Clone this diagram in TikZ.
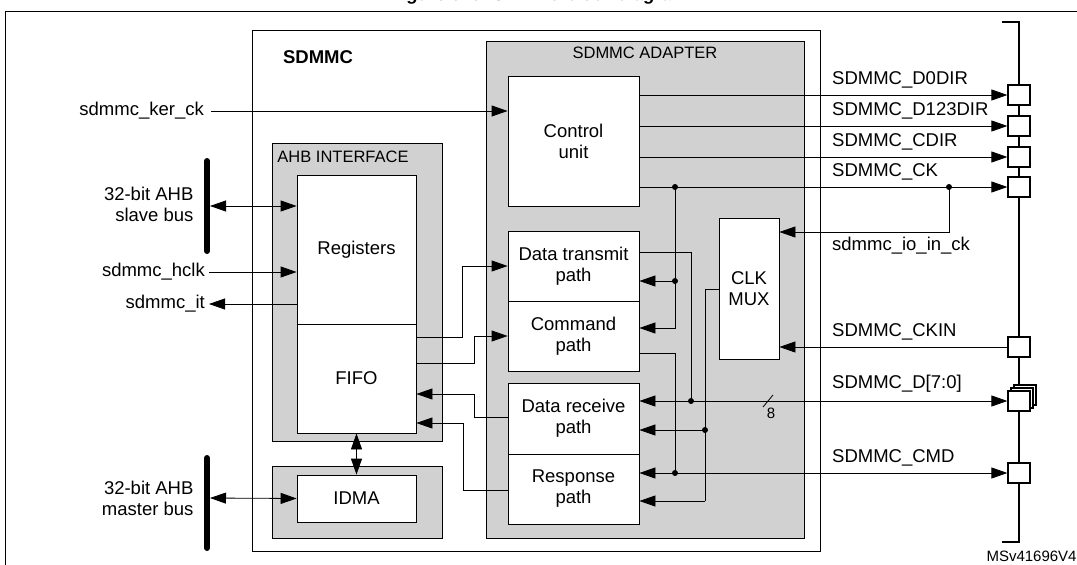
\documentclass[tikz,border=0pt]{standalone}
\usepackage{fontspec}
\setmainfont{Liberation Sans}
\usetikzlibrary{arrows.meta,calc}
\begin{document}
\begin{tikzpicture}[x=1pt,y=-1pt,
  every node/.style={font=\fontsize{18.5}{21}\selectfont},
  box/.style={draw,fill=white,line width=0.8pt,inner sep=0pt,align=center},
  gbox/.style={draw,fill=black!18,line width=0.8pt,inner sep=0pt},
  pin/.style={draw,fill=white,line width=1.2pt,minimum width=22pt,minimum height=20pt,inner sep=0pt},
  ln/.style={line width=0.8pt},
  arr/.style={ln,-{Triangle[length=16pt,width=11pt]}},
  darr/.style={ln,{Triangle[length=16pt,width=11pt]}-{Triangle[length=16pt,width=11pt]}},
  dot/.style={circle,fill,inner sep=0pt,minimum size=6pt},
  lab/.style={anchor=south west,inner sep=1pt}]
\useasboundingbox (0,0) rectangle (1077,565);
\node[font=\bfseries\itshape\fontsize{18}{20}\selectfont] (title) at (540,-4) {Figure 515. SDMMC block diagram};
\draw[line width=1pt] (5,565) -- (5,11) -- (1077,11);
% main boxes
\node[box,minimum width=568pt,minimum height=521pt] (sdmmc) at (536,290.5) {};
\node[font=\bfseries\fontsize{18.5}{21}\selectfont] (sdl) at (318,57) {SDMMC};
\node[gbox,minimum width=318pt,minimum height=497pt] (adp) at (645,289.5) {};
\node[font=\fontsize{16.5}{19}\selectfont] (adl) at (645,53) {SDMMC ADAPTER};
\node[gbox,minimum width=170pt,minimum height=298pt] (ahb) at (357,292) {};
\node[font=\fontsize{16.5}{19}\selectfont] (ahbl) at (343,157) {AHB INTERFACE};
\node[box,minimum width=119pt,minimum height=149pt] (reg) at (356.5,249.5) {Registers};
\node[box,minimum width=119pt,minimum height=109pt] (fifo) at (356.5,378.5) {FIFO};
\node[gbox,minimum width=170pt,minimum height=72pt] (idg) at (357,502) {};
\node[box,minimum width=119pt,minimum height=47pt] (idma) at (356.5,498.5) {IDMA};
\node[box,minimum width=131pt,minimum height=130pt] (ctrl) at (573.5,141) {Control\\unit};
\node[box,minimum width=131pt,minimum height=70pt] (dtx) at (573.5,266) {Data transmit\\path};
\node[box,minimum width=131pt,minimum height=70pt] (cmd) at (573.5,336) {Command\\path};
\node[box,minimum width=131pt,minimum height=71pt] (drx) at (573.5,418.5) {Data receive\\path};
\node[box,minimum width=131pt,minimum height=70pt] (rsp) at (573.5,489) {Response\\path};
\node[box,minimum width=60pt,minimum height=141pt] (mux) at (749,288.5) {CLK\\MUX};
% bus
\draw[line width=1.5pt] (1002,22) -- (1019,22) -- (1019,542) -- (1002,542);
\node[pin] (p1) at (1019,95) {};
\node[pin] (p2) at (1019,126) {};
\node[pin] (p3) at (1019,157) {};
\node[pin] (p4) at (1019,187) {};
\node[pin] (p5) at (1019,347) {};
\node[pin] (p6c) at (1025,395) {};
\node[pin] (p6b) at (1022,398) {};
\node[pin] (p6) at (1019,401) {};
\node[pin] (p7) at (1019,473) {};
% outputs from control unit
\draw[arr] (ctrl.east |- p1) -- (p1.west);
\node[lab] (l1) at (831,89) {SDMMC\_D0DIR};
\draw[arr] (ctrl.east |- p2) -- (p2.west);
\node[lab] (l2) at (831,120) {SDMMC\_D123DIR};
\draw[arr] (ctrl.east |- p3) -- (p3.west);
\node[lab] (l3) at (831,151) {SDMMC\_CDIR};
\draw[arr] (ctrl.east |- p4) -- (p4.west);
\node[lab] (l4) at (831,181) {SDMMC\_CK};
\coordinate (j1) at (675,187);
\coordinate (j2) at (949,187);
\node[dot] at (j1) {}; \node[dot] at (j2) {};
\draw[arr] (j2) -- (949,232) -- (mux.east |- 0,232);
\node[anchor=north west,inner sep=1pt] (l5) at (831,236) {sdmmc\_io\_in\_ck};
\node[dot] at (675,281) {};
\draw[arr] (j1) -- (675,328) -- (dtx.east |- 0,328);
\draw[arr] (675,281) -- (dtx.east |- 0,281);
% CKIN
\draw[arr] (p5.west) -- (mux.east |- p5);
\node[lab] (l6) at (831,341) {SDMMC\_CKIN};
% D[7:0]
\draw[ln] (dtx.east |- 0,252) -- (691,252) -- (691,401);
\node[dot] at (691,401) {};
\draw[arr] (691,401) -- (drx.east |- p6);
\draw[arr] (691,401) -- (p6.west);
\node[lab] (l7) at (831,394) {SDMMC\_D[7:0]};
\draw[ln] (763,407) -- (773,395);
\node[font=\fontsize{15}{17}\selectfont] (l8) at (771,413) {8};
% CMD
\draw[ln] (cmd.east |- 0,353) -- (675,353) -- (675,473);
\node[dot] at (675,473) {};
\draw[arr] (675,473) -- (rsp.east |- p7);
\draw[arr] (675,473) -- (p7.west);
\node[lab] (l9) at (831,467) {SDMMC\_CMD};
% MUX out
\draw[ln] (mux.west |- 0,289) -- (705,289) -- (705,501);
\node[dot] at (705,430) {};
\draw[arr] (705,430) -- (drx.east |- 0,430);
\draw[arr] (705,501) -- (rsp.east |- 0,501);
% FIFO connections
\draw[arr] (fifo.east |- 0,337) -- (462,337) -- (462,266) -- (dtx.west |- 0,266);
\draw[arr] (fifo.east |- 0,363) -- (474,363) -- (474,336) -- (cmd.west |- 0,336);
\draw[arr] (drx.west |- 0,417) -- (474,417) -- (474,394) -- (fifo.east |- 0,394);
\draw[arr] (rsp.west |- 0,490) -- (463,490) -- (463,423) -- (fifo.east |- 0,423);
\draw[darr] (fifo.south) -- (idma.north);
% left side
\node[anchor=east,inner sep=1pt] (kck) at (205,111) {sdmmc\_ker\_ck};
\draw[arr] ([xshift=6pt]kck.east) -- (ctrl.west |- kck);
\draw[line width=6pt,line cap=round] (207,161) -- (207,251);
\draw[line width=6pt,line cap=round] (207,458) -- (207,548);
\coordinate (bs) at (210,206);
\coordinate (bm) at (210,498);
\draw[darr] (bs) -- (reg.west |- bs);
\draw[darr] (bm) -- (idma.west);
\node[align=right,anchor=east] (sb) at (197,204) {32-bit AHB\\slave bus};
\node[align=right,anchor=east] (mb) at (197,498) {32-bit AHB\\master bus};
\node[anchor=east,inner sep=1pt] (hclk) at (206,272) {sdmmc\_hclk};
\draw[arr] ([xshift=3pt]hclk.east) -- (reg.west |- hclk);
\node[anchor=east,inner sep=1pt] (it) at (206,304) {sdmmc\_it};
\draw[arr] (reg.west |- it) -- ([xshift=3pt]it.east);
\node[anchor=west,font=\fontsize{15}{17}\selectfont] (ms) at (983,556) {MSv41696V4};
\end{tikzpicture}
\end{document}
